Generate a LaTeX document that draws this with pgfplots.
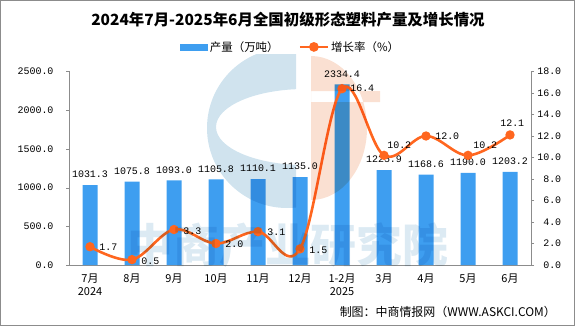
\documentclass[border=0pt]{standalone}
\usepackage{pgfplots}
\pgfplotsset{compat=1.18}
\usepackage{pgfplotstable}
\usepackage{fontspec}
\setmainfont{Noto Sans CJK SC}
\newfontfamily\cjk{Noto Sans CJK SC}
\newfontfamily\mono{Liberation Mono}
\definecolor{barblue}{RGB}{62,158,240}
\definecolor{lineorange}{RGB}{255,102,31}
\definecolor{axgray}{RGB}{140,140,140}
\definecolor{wmblue}{RGB}{208,227,238}
\definecolor{wmtext}{RGB}{220,234,243}
\definecolor{wmorange}{RGB}{250,224,210}

\pgfplotstableread{
x y
0 1031.3
1 1075.8
2 1093.0
3 1105.8
4 1110.1
5 1135.0
6 2334.4
7 1225.9
8 1168.6
9 1190.0
10 1203.2
}\prodtab

\pgfplotstableread{
x y dx dy
0 1.7 7 0
1 0.5 7 -2
2 3.3 7 -2
3 2.0 7 -1
4 3.1 7 -1
5 1.5 7 -1
6 16.4 6 0
7 10.2 1 10
8 12.0 7 0
9 10.2 3 10
10 12.1 -12 12
}\growtab

\begin{document}
\begin{tikzpicture}[x=1bp,y=1bp]
\path[use as bounding box] (0,0) rectangle (575,326);

\begin{axis}[
  at={(69bp,61bp)}, anchor=south west,
  scale only axis, width=462bp, height=193.5bp,
  xmin=-0.5, xmax=10.5, ymin=0, ymax=2500,
  axis x line*=bottom, axis y line*=left,
  axis line style={axgray},
  xtick={0,...,10},
  xticklabels={{7月\\2024},8月,9月,10月,11月,12月,{1-2月\\2025},3月,4月,5月,6月},
  xticklabel style={align=center, font=\cjk\fontsize{11}{13}\selectfont, yshift=-2bp},
  x tick style={draw=none},
  minor xtick={-0.5,0.5,...,10.5},
  minor x tick style={axgray},
  minor tick length=4bp,
  ytick={0,500,...,2500},
  y tick style={axgray},
  major tick length=3bp,
  tick align=outside,
  yticklabel style={font=\mono\fontsize{10}{12}\selectfont, xshift=-9bp},
  /pgf/number format/.cd, fixed, zerofill, precision=1, 1000 sep={}, assume math mode=true,
  /pgfplots/.cd,
  nodes near coords,
  nodes near coords style={font=\mono\fontsize{10}{12}\selectfont, anchor=south, inner sep=1bp, yshift=6bp, black},
  clip=false,
]
\addplot[ybar, bar width=15bp, fill=barblue, draw=none, bar shift=0pt] table[x=x,y=y]{\prodtab};
\end{axis}

\begin{axis}[
  at={(69bp,61bp)}, anchor=south west,
  scale only axis, width=462bp, height=193.5bp,
  xmin=-0.5, xmax=10.5, ymin=0, ymax=18,
  axis x line=none, axis y line*=right,
  axis line style={axgray},
  ytick={0,2,...,18},
  y tick style={axgray},
  major tick length=3bp,
  tick align=outside,
  yticklabel style={font=\mono\fontsize{10}{12}\selectfont, text width=24bp, align=right, inner sep=0pt, xshift=3bp},
  /pgf/number format/.cd, fixed, zerofill, precision=1, 1000 sep={}, assume math mode=true,
  /pgfplots/.cd,
  clip=false,
  legend columns=2,
  legend style={at={(0.48,1.127)}, anchor=center, draw=none, fill=none,
    font=\cjk\fontsize{11.5}{13}\selectfont,
    /tikz/every even column/.append style={column sep=18bp}},
]
\addlegendimage{legend image code/.code={\fill[barblue] (0bp,-3bp) rectangle (27bp,3bp);}}
\addlegendentry{产量（万吨）}
\addplot[lineorange, line width=2.6bp, smooth, tension=0.6,
  mark=*, mark size=3.3bp, mark options={fill=lineorange, draw=lineorange},
  legend image code/.code={\draw[lineorange, line width=2.6bp] (0bp,0bp)--(28bp,0bp); \fill[lineorange] (14bp,0bp) circle (3.5bp);},
  nodes near coords,
  visualization depends on={\thisrow{dx}\as\dx},
  visualization depends on={\thisrow{dy}\as\dy},
  nodes near coords style={font=\mono\fontsize{10}{12}\selectfont, anchor=west, inner sep=1bp, xshift=\dx*1bp, yshift=\dy*1bp, black},
] table[x=x,y=y]{\growtab};
\addlegendentry{增长率（\%）}
\end{axis}

% watermark (logo and text), overlaid with multiply
\begin{scope}[blend mode=multiply]
  \begin{scope}
    \clip (200,111) rectangle (296,272);
    \fill[wmblue, even odd rule] (287,198) circle (80) (305,199) ellipse (89 and 38);
  \end{scope}
  \begin{scope}
    \clip (311,111) rectangle (380,272);
    \fill[wmorange, even odd rule] (311,198) ellipse (56 and 72) (311,224) rectangle (380,235);
  \end{scope}
  \node[wmtext, font=\cjk\bfseries\fontsize{46}{50}\selectfont, inner sep=0pt] at (288,81) {中商产业研究院};
\end{scope}

\node[font=\cjk\bfseries\fontsize{15.5}{18}\selectfont] at (288,306) {2024年7月-2025年6月全国初级形态塑料产量及增长情况};
\node[font=\cjk\fontsize{12}{14}\selectfont, anchor=east, inner sep=0pt] at (556,14) {制图：中商情报网（WWW.ASKCI.COM）};
\draw[axgray] (0.5,0.5) rectangle (574.5,325.5);
\end{tikzpicture}
\end{document}
